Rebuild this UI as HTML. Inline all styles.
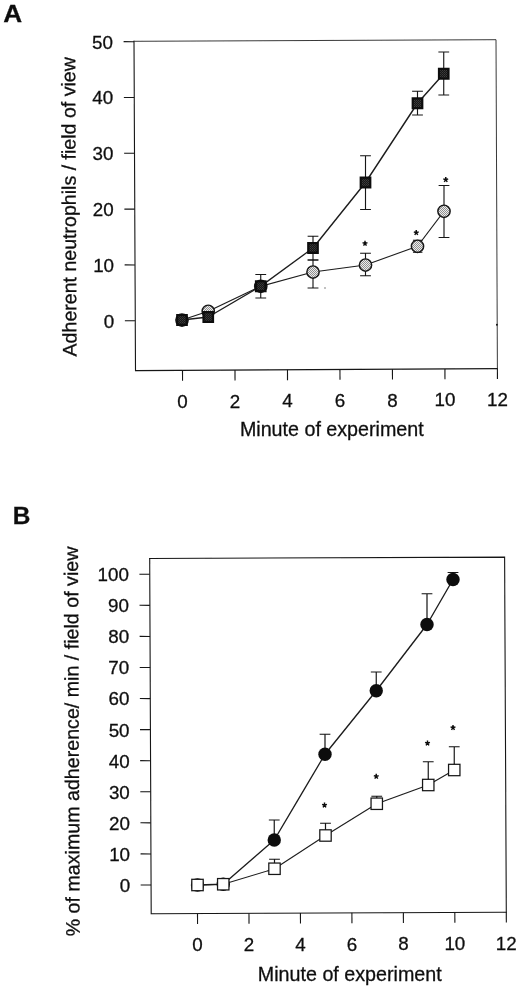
<!DOCTYPE html><html><head><meta charset="utf-8"><title>Figure</title><style>html,body{margin:0;padding:0;background:#fff}svg{display:block}text{font-family:"Liberation Sans",sans-serif;fill:#0d0d0d;stroke:#0d0d0d;stroke-width:0.28px;font-variant-ligatures:none;font-kerning:normal}</style></head><body>
<svg width="520" height="987" viewBox="0 0 520 987">
<defs>
<pattern id="dk" width="2" height="2" patternUnits="userSpaceOnUse"><rect width="2" height="2" fill="#161616"/><rect x="0" y="0" width="1" height="1" fill="#3e3e3e"/><rect x="1" y="1" width="1" height="1" fill="#323232"/></pattern>
<pattern id="lt" width="2" height="2" patternUnits="userSpaceOnUse"><rect width="2" height="2" fill="#ececec"/><rect x="0" y="0" width="1" height="1" fill="#909090"/><rect x="1" y="1" width="1" height="1" fill="#909090"/></pattern>
<filter id="soft" x="-5%" y="-5%" width="110%" height="110%"><feGaussianBlur stdDeviation="0.35"/></filter>
</defs>
<rect width="520" height="987" fill="#fff"/>
<g filter="url(#soft)">
<text transform="translate(3.3 22.2) scale(1.08 1)" font-size="24.2" font-weight="bold">A</text>
<text x="12.8" y="523.5" font-size="24.4" font-weight="bold">B</text>
<polyline points="134.00,41.30 135.50,370.60 497.40,368.60" fill="none" stroke="#161616" stroke-width="1.1" stroke-linejoin="miter" stroke-linecap="square"/>
<polyline points="134.00,41.30 496.00,39.70 497.40,368.60" fill="none" stroke="#2e2e2e" stroke-width="0.95" stroke-linejoin="miter" stroke-linecap="square"/>
<line x1="124.87" y1="320.70" x2="135.27" y2="320.75" stroke="#161616" stroke-width="1.1"/>
<text x="114.27" y="327.55" font-size="18.8" text-anchor="end">0</text>
<line x1="124.62" y1="264.89" x2="135.02" y2="264.94" stroke="#161616" stroke-width="1.1"/>
<text x="114.02" y="271.74" font-size="18.8" text-anchor="end">10</text>
<line x1="124.36" y1="209.08" x2="134.76" y2="209.13" stroke="#161616" stroke-width="1.1"/>
<text x="113.76" y="215.93" font-size="18.8" text-anchor="end">20</text>
<line x1="124.11" y1="153.27" x2="134.51" y2="153.32" stroke="#161616" stroke-width="1.1"/>
<text x="113.51" y="160.12" font-size="18.8" text-anchor="end">30</text>
<line x1="123.86" y1="97.46" x2="134.26" y2="97.51" stroke="#161616" stroke-width="1.1"/>
<text x="113.26" y="104.31" font-size="18.8" text-anchor="end">40</text>
<line x1="123.60" y1="41.65" x2="134.00" y2="41.70" stroke="#161616" stroke-width="1.1"/>
<text x="113.00" y="48.50" font-size="18.8" text-anchor="end">50</text>
<line x1="182.50" y1="370.34" x2="182.55" y2="380.74" stroke="#161616" stroke-width="1.1"/>
<text x="182.50" y="407.94" font-size="18.8" text-anchor="middle">0</text>
<line x1="234.98" y1="370.05" x2="235.03" y2="380.45" stroke="#161616" stroke-width="1.1"/>
<text x="234.98" y="407.65" font-size="18.8" text-anchor="middle">2</text>
<line x1="287.47" y1="369.76" x2="287.52" y2="380.16" stroke="#161616" stroke-width="1.1"/>
<text x="287.47" y="407.36" font-size="18.8" text-anchor="middle">4</text>
<line x1="339.95" y1="369.47" x2="340.00" y2="379.87" stroke="#161616" stroke-width="1.1"/>
<text x="339.95" y="407.07" font-size="18.8" text-anchor="middle">6</text>
<line x1="392.43" y1="369.18" x2="392.48" y2="379.58" stroke="#161616" stroke-width="1.1"/>
<text x="392.43" y="406.78" font-size="18.8" text-anchor="middle">8</text>
<line x1="444.92" y1="368.89" x2="444.97" y2="379.29" stroke="#161616" stroke-width="1.1"/>
<text x="444.92" y="406.49" font-size="18.8" text-anchor="middle">10</text>
<line x1="497.40" y1="368.60" x2="497.45" y2="379.00" stroke="#161616" stroke-width="1.1"/>
<text x="497.40" y="406.20" font-size="18.8" text-anchor="middle">12</text>
<text transform="translate(75.8 206.8) rotate(-90.25)" font-size="19.58" text-anchor="middle">Adherent neutrophils / f&#8204;ield of view</text>
<text x="331.8" y="435.8" font-size="19.7" text-anchor="middle">Minute of experiment</text>
<path d="M313.00 260.00V288.00M307.60 260.00h10.8M307.60 288.00h10.8" stroke="#141414" stroke-width="1.12" fill="none"/>
<path d="M365.50 253.25V275.75M360.10 253.25h10.8M360.10 275.75h10.8" stroke="#141414" stroke-width="1.12" fill="none"/>
<path d="M417.70 240.30V252.20M412.95 240.30h9.5M412.95 252.20h9.5" stroke="#141414" stroke-width="1.12" fill="none"/>
<path d="M444.00 185.50V237.50M438.60 185.50h10.8M438.60 237.50h10.8" stroke="#141414" stroke-width="1.12" fill="none"/>
<polyline points="182.00,320.00 208.25,311.25 260.75,286.25 313.00,272.00 365.50,265.00 417.50,246.25 444.00,211.25" fill="none" stroke="#1c1c1c" stroke-width="1.2" stroke-linejoin="round"/>
<circle cx="182" cy="320" r="6.15" fill="url(#lt)" stroke="#141414" stroke-width="1.45"/>
<circle cx="208.25" cy="311.25" r="6.15" fill="url(#lt)" stroke="#141414" stroke-width="1.45"/>
<circle cx="260.75" cy="286.25" r="6.15" fill="url(#lt)" stroke="#141414" stroke-width="1.45"/>
<circle cx="313" cy="272" r="6.15" fill="url(#lt)" stroke="#141414" stroke-width="1.45"/>
<circle cx="365.5" cy="265" r="6.15" fill="url(#lt)" stroke="#141414" stroke-width="1.45"/>
<circle cx="417.5" cy="246.25" r="6.15" fill="url(#lt)" stroke="#141414" stroke-width="1.45"/>
<circle cx="444" cy="211.25" r="6.15" fill="url(#lt)" stroke="#141414" stroke-width="1.45"/>
<path d="M260.75 274.50V298.00M255.35 274.50h10.8M255.35 298.00h10.8" stroke="#141414" stroke-width="1.12" fill="none"/>
<path d="M313.00 236.25V260.00M307.60 236.25h10.8M307.60 260.00h10.8" stroke="#141414" stroke-width="1.12" fill="none"/>
<path d="M365.50 155.75V209.50M360.10 155.75h10.8M360.10 209.50h10.8" stroke="#141414" stroke-width="1.12" fill="none"/>
<path d="M417.50 91.25V115.00M412.10 91.25h10.8M412.10 115.00h10.8" stroke="#141414" stroke-width="1.12" fill="none"/>
<path d="M443.75 52.00V95.00M438.35 52.00h10.8M438.35 95.00h10.8" stroke="#141414" stroke-width="1.12" fill="none"/>
<polyline points="182.00,320.00 208.25,317.00 260.75,286.25 313.00,248.00 365.50,182.50 417.50,103.25 443.75,73.75" fill="none" stroke="#1c1c1c" stroke-width="1.4" stroke-linejoin="round"/>
<rect x="176.15" y="314.00" width="11.7" height="12" fill="#0e0e0e"/>
<rect x="178.40" y="316.30" width="7.2" height="7.4" fill="url(#dk)"/>
<rect x="202.40" y="311.00" width="11.7" height="12" fill="#0e0e0e"/>
<rect x="204.65" y="313.30" width="7.2" height="7.4" fill="url(#dk)"/>
<rect x="254.90" y="280.25" width="11.7" height="12" fill="#0e0e0e"/>
<rect x="257.15" y="282.55" width="7.2" height="7.4" fill="url(#dk)"/>
<rect x="307.15" y="242.00" width="11.7" height="12" fill="#0e0e0e"/>
<rect x="309.40" y="244.30" width="7.2" height="7.4" fill="url(#dk)"/>
<rect x="359.65" y="176.50" width="11.7" height="12" fill="#0e0e0e"/>
<rect x="361.90" y="178.80" width="7.2" height="7.4" fill="url(#dk)"/>
<rect x="411.65" y="97.25" width="11.7" height="12" fill="#0e0e0e"/>
<rect x="413.90" y="99.55" width="7.2" height="7.4" fill="url(#dk)"/>
<rect x="437.90" y="67.75" width="11.7" height="12" fill="#0e0e0e"/>
<rect x="440.15" y="70.05" width="7.2" height="7.4" fill="url(#dk)"/>
<path d="M365.00 243.45L365.00 240.75M365.00 243.45L367.43 242.62M365.00 243.45L366.50 245.63M365.00 243.45L363.50 245.63M365.00 243.45L362.57 242.62" stroke="#0c0c0c" stroke-width="1.45" stroke-linecap="butt" fill="none"/>
<path d="M416.25 232.70L416.25 230.00M416.25 232.70L418.68 231.87M416.25 232.70L417.75 234.88M416.25 232.70L414.75 234.88M416.25 232.70L413.82 231.87" stroke="#0c0c0c" stroke-width="1.45" stroke-linecap="butt" fill="none"/>
<path d="M445.75 179.70L445.75 177.00M445.75 179.70L448.18 178.87M445.75 179.70L447.25 181.88M445.75 179.70L444.25 181.88M445.75 179.70L443.32 178.87" stroke="#0c0c0c" stroke-width="1.45" stroke-linecap="butt" fill="none"/>
<circle cx="325" cy="288" r="0.7" fill="#555"/>
<circle cx="496.9" cy="324.7" r="0.95" fill="#111"/>
<polyline points="149.70,558.50 151.20,913.70 506.30,912.20" fill="none" stroke="#161616" stroke-width="1.1" stroke-linejoin="miter" stroke-linecap="square"/>
<polyline points="149.70,558.50 504.60,557.10 506.30,912.20" fill="none" stroke="#161616" stroke-width="1.1" stroke-linejoin="miter" stroke-linecap="square"/>
<line x1="140.68" y1="884.95" x2="151.08" y2="885.00" stroke="#161616" stroke-width="1.1"/>
<text x="130.18" y="891.85" font-size="18.8" text-anchor="end">0</text>
<line x1="140.55" y1="853.88" x2="150.95" y2="853.93" stroke="#161616" stroke-width="1.1"/>
<text x="130.05" y="860.78" font-size="18.8" text-anchor="end">10</text>
<line x1="140.42" y1="822.81" x2="150.82" y2="822.86" stroke="#161616" stroke-width="1.1"/>
<text x="129.92" y="829.71" font-size="18.8" text-anchor="end">20</text>
<line x1="140.29" y1="791.74" x2="150.69" y2="791.79" stroke="#161616" stroke-width="1.1"/>
<text x="129.79" y="798.64" font-size="18.8" text-anchor="end">30</text>
<line x1="140.15" y1="760.67" x2="150.55" y2="760.72" stroke="#161616" stroke-width="1.1"/>
<text x="129.65" y="767.57" font-size="18.8" text-anchor="end">40</text>
<line x1="140.02" y1="729.60" x2="150.42" y2="729.65" stroke="#161616" stroke-width="1.1"/>
<text x="129.52" y="736.50" font-size="18.8" text-anchor="end">50</text>
<line x1="139.89" y1="698.53" x2="150.29" y2="698.58" stroke="#161616" stroke-width="1.1"/>
<text x="129.39" y="705.43" font-size="18.8" text-anchor="end">60</text>
<line x1="139.76" y1="667.46" x2="150.16" y2="667.51" stroke="#161616" stroke-width="1.1"/>
<text x="129.26" y="674.36" font-size="18.8" text-anchor="end">70</text>
<line x1="139.63" y1="636.39" x2="150.03" y2="636.44" stroke="#161616" stroke-width="1.1"/>
<text x="129.13" y="643.29" font-size="18.8" text-anchor="end">80</text>
<line x1="139.50" y1="605.32" x2="149.90" y2="605.37" stroke="#161616" stroke-width="1.1"/>
<text x="129.00" y="612.22" font-size="18.8" text-anchor="end">90</text>
<line x1="139.37" y1="574.25" x2="149.77" y2="574.30" stroke="#161616" stroke-width="1.1"/>
<text x="128.87" y="581.15" font-size="18.8" text-anchor="end">100</text>
<line x1="197.50" y1="913.50" x2="197.55" y2="923.90" stroke="#161616" stroke-width="1.1"/>
<text x="197.50" y="951.30" font-size="18.8" text-anchor="middle">0</text>
<line x1="248.97" y1="913.29" x2="249.02" y2="923.69" stroke="#161616" stroke-width="1.1"/>
<text x="248.97" y="951.09" font-size="18.8" text-anchor="middle">2</text>
<line x1="300.43" y1="913.07" x2="300.48" y2="923.47" stroke="#161616" stroke-width="1.1"/>
<text x="300.43" y="950.87" font-size="18.8" text-anchor="middle">4</text>
<line x1="351.90" y1="912.85" x2="351.95" y2="923.25" stroke="#161616" stroke-width="1.1"/>
<text x="351.90" y="950.65" font-size="18.8" text-anchor="middle">6</text>
<line x1="403.37" y1="912.63" x2="403.42" y2="923.03" stroke="#161616" stroke-width="1.1"/>
<text x="403.37" y="950.43" font-size="18.8" text-anchor="middle">8</text>
<line x1="454.83" y1="912.42" x2="454.88" y2="922.82" stroke="#161616" stroke-width="1.1"/>
<text x="454.83" y="950.22" font-size="18.8" text-anchor="middle">10</text>
<line x1="506.30" y1="912.20" x2="506.35" y2="922.60" stroke="#161616" stroke-width="1.1"/>
<text x="506.30" y="950.00" font-size="18.8" text-anchor="middle">12</text>
<text transform="translate(78.8 741.5) rotate(-90.25)" font-size="19.65" text-anchor="middle">% of maximum adherence/ min / f&#8204;ield of view</text>
<text x="349.75" y="981.2" font-size="19.7" text-anchor="middle">Minute of experiment</text>
<path d="M274.25 820.00V840.00M268.85 820.00h10.8" stroke="#141414" stroke-width="1.2" fill="none"/>
<path d="M325.00 734.25V754.00M319.60 734.25h10.8" stroke="#141414" stroke-width="1.2" fill="none"/>
<path d="M376.25 672.00V690.00M370.85 672.00h10.8" stroke="#141414" stroke-width="1.2" fill="none"/>
<path d="M427.00 593.75V624.00M421.60 593.75h10.8" stroke="#141414" stroke-width="1.2" fill="none"/>
<path d="M453.00 572.50V579.00M447.60 572.50h10.8" stroke="#141414" stroke-width="1.2" fill="none"/>
<polyline points="197.50,885.00 223.25,884.25 274.25,840.00 325.00,754.25 376.25,690.75 427.00,624.50 453.00,579.50" fill="none" stroke="#1c1c1c" stroke-width="1.35" stroke-linejoin="round"/>
<circle cx="197.5" cy="885" r="6.7" fill="#0c0c0c"/>
<circle cx="223.25" cy="884.25" r="6.7" fill="#0c0c0c"/>
<circle cx="274.25" cy="840" r="6.7" fill="#0c0c0c"/>
<circle cx="325" cy="754.25" r="6.7" fill="#0c0c0c"/>
<circle cx="376.25" cy="690.75" r="6.7" fill="#0c0c0c"/>
<circle cx="427" cy="624.5" r="6.7" fill="#0c0c0c"/>
<circle cx="453" cy="579.5" r="6.7" fill="#0c0c0c"/>
<path d="M274.50 859.25V868.00M269.10 859.25h10.8" stroke="#141414" stroke-width="1.2" fill="none"/>
<path d="M325.50 823.25V835.00M320.10 823.25h10.8" stroke="#141414" stroke-width="1.2" fill="none"/>
<path d="M376.75 796.25V803.00M371.35 796.25h10.8" stroke="#141414" stroke-width="1.2" fill="none"/>
<path d="M428.25 761.75V785.00M422.85 761.75h10.8" stroke="#141414" stroke-width="1.2" fill="none"/>
<path d="M454.25 746.75V770.00M448.85 746.75h10.8" stroke="#141414" stroke-width="1.2" fill="none"/>
<polyline points="197.50,885.00 223.25,884.25 274.50,868.75 325.50,835.50 376.75,803.75 428.25,785.00 454.25,770.00" fill="none" stroke="#1c1c1c" stroke-width="1.1" stroke-linejoin="round"/>
<rect x="191.80" y="879.30" width="11.4" height="11.4" fill="#fff" stroke="#141414" stroke-width="1.25"/>
<rect x="217.55" y="878.55" width="11.4" height="11.4" fill="#fff" stroke="#141414" stroke-width="1.25"/>
<rect x="268.80" y="863.05" width="11.4" height="11.4" fill="#fff" stroke="#141414" stroke-width="1.25"/>
<rect x="319.80" y="829.80" width="11.4" height="11.4" fill="#fff" stroke="#141414" stroke-width="1.25"/>
<rect x="371.05" y="798.05" width="11.4" height="11.4" fill="#fff" stroke="#141414" stroke-width="1.25"/>
<rect x="422.55" y="779.30" width="11.4" height="11.4" fill="#fff" stroke="#141414" stroke-width="1.25"/>
<rect x="448.55" y="764.30" width="11.4" height="11.4" fill="#fff" stroke="#141414" stroke-width="1.25"/>
<path d="M324.50 805.20L324.50 802.50M324.50 805.20L326.93 804.37M324.50 805.20L326.00 807.38M324.50 805.20L323.00 807.38M324.50 805.20L322.07 804.37" stroke="#0c0c0c" stroke-width="1.45" stroke-linecap="butt" fill="none"/>
<path d="M376.25 776.45L376.25 773.75M376.25 776.45L378.68 775.62M376.25 776.45L377.75 778.63M376.25 776.45L374.75 778.63M376.25 776.45L373.82 775.62" stroke="#0c0c0c" stroke-width="1.45" stroke-linecap="butt" fill="none"/>
<path d="M427.50 743.20L427.50 740.50M427.50 743.20L429.93 742.37M427.50 743.20L429.00 745.38M427.50 743.20L426.00 745.38M427.50 743.20L425.07 742.37" stroke="#0c0c0c" stroke-width="1.45" stroke-linecap="butt" fill="none"/>
<path d="M453.00 727.70L453.00 725.00M453.00 727.70L455.43 726.87M453.00 727.70L454.50 729.88M453.00 727.70L451.50 729.88M453.00 727.70L450.57 726.87" stroke="#0c0c0c" stroke-width="1.45" stroke-linecap="butt" fill="none"/>
</g></svg></body></html>
